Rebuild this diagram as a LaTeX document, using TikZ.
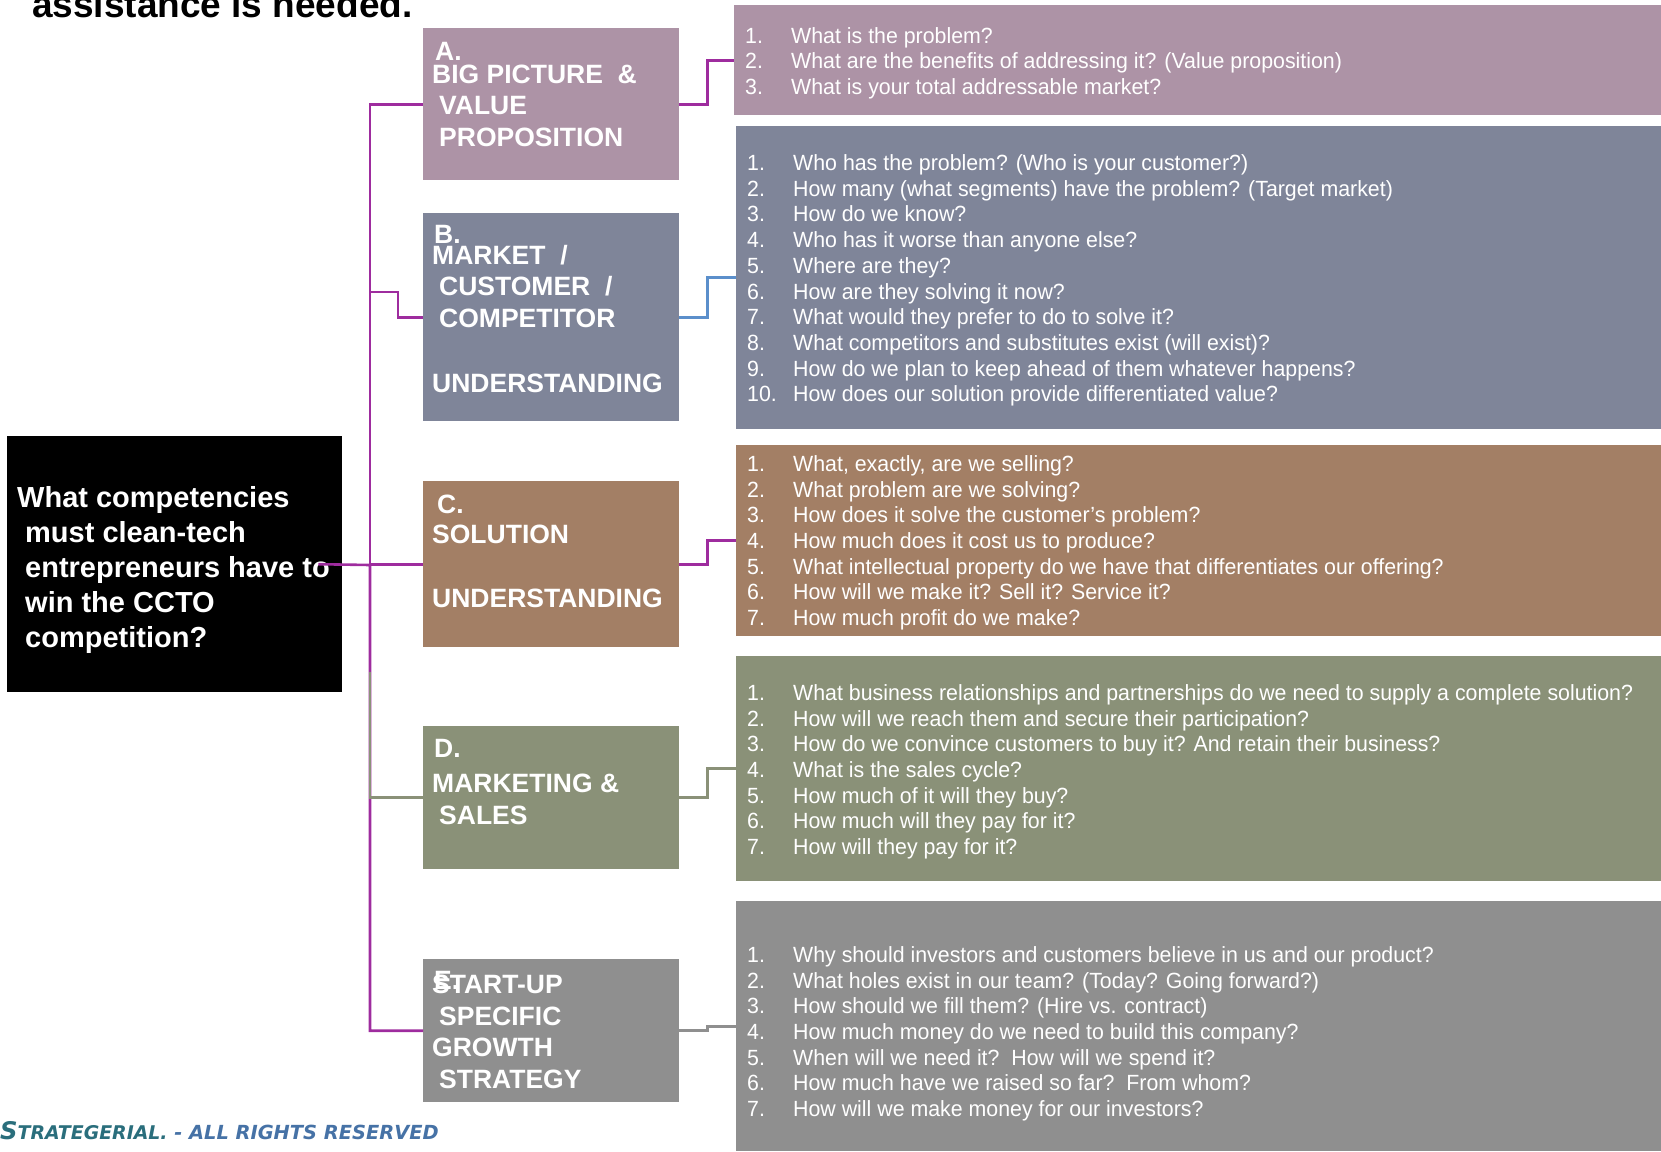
\documentclass[tikz,border=0pt]{standalone}
\usepackage{fontspec}
\setmainfont{Liberation Sans}
\newfontfamily\qfont{Liberation Sans}[FakeStretch=0.97]
\newfontfamily\footfont{DejaVu Sans}
\usetikzlibrary{calc}
\definecolor{boxA}{HTML}{AD93A6}
\definecolor{boxB}{HTML}{7F8599}
\definecolor{boxC}{HTML}{A37F65}
\definecolor{boxD}{HTML}{8A9178}
\definecolor{boxE}{HTML}{8F8F8F}
\definecolor{linkP}{HTML}{9E2C9E}
\definecolor{linkB}{HTML}{5B8FCB}
\definecolor{footTeal}{HTML}{2A6E7C}
\definecolor{footBlue}{HTML}{4672A6}
\newcommand\qi[2]{\makebox[46pt][l]{#1.}#2}

\begin{document}
\begin{tikzpicture}[x=1pt,y=-1pt]
        \tikzset{block/.style = {shape=rectangle, inner sep=0pt, anchor=north west}}
        \tikzset{boxtext/.style = {anchor=base west, inner sep=0pt, text=white, align=left,
                 font=\bfseries\fontsize{26.5}{31.5}\selectfont}}
        \tikzset{qtext/.style = {anchor=base west, inner sep=0pt, text=white, align=left,
                 font=\qfont\fontsize{22}{25.7}\selectfont}}
        \tikzset{link/.style = {line width=2.6pt}}
        \useasboundingbox (0,0) rectangle (1661,1151);

        % heading and footer (multi-line nodes sit on the baseline of their last line)
        \node[anchor=base west, inner sep=0pt, font=\bfseries\fontsize{37}{40}\selectfont] (title) at (32,17) {assistance is needed.};
        \node[anchor=base west, inner sep=0pt, font=\footfont\bfseries\itshape] (foot) at (0,1139)
             {\textcolor{footTeal}{\fontsize{24.3}{27}\selectfont S\fontsize{18.9}{21}\selectfont TRATEGERIAL.}\textcolor{footBlue}{\fontsize{19.4}{21}\selectfont{} - ALL RIGHTS RESERVED}};

        % root question
        \node[block, fill=black, minimum width=335pt, minimum height=256pt] (root) at (7,436) {};
        \node[anchor=base west, inner sep=0pt, text=white, align=left, font=\bfseries\fontsize{29}{35}\selectfont] (troot) at (17,647)
             {What competencies\\\hspace*{8pt}must clean-tech\\\hspace*{8pt}entrepreneurs have to\\\hspace*{8pt}win the CCTO\\\hspace*{8pt}competition?};

        % competency boxes
        \node[block, fill=boxA, minimum width=256pt, minimum height=152pt] (A) at (423,28) {};
        \node[block, fill=boxB, minimum width=256pt, minimum height=208pt] (B) at (423,213) {};
        \node[block, fill=boxC, minimum width=256pt, minimum height=166pt] (C) at (423,481) {};
        \node[block, fill=boxD, minimum width=256pt, minimum height=143pt] (D) at (423,726) {};
        \node[block, fill=boxE, minimum width=256pt, minimum height=143pt] (E) at (423,959) {};

        \node[boxtext] (tA0) at (435,60) {A.};
        \node[boxtext] (tA) at (432,146) {BIG PICTURE\ \ \&\\\hspace*{7pt}VALUE\\\hspace*{7pt}PROPOSITION};
        \node[boxtext] (tB0) at (434,243) {B.};
        \node[boxtext] (tB) at (432,392) {MARKET\ \ /\\\hspace*{7pt}CUSTOMER\ \ /\\\hspace*{7pt}COMPETITOR\\[33.5pt]UNDERSTANDING};
        \node[boxtext] (tC0) at (437,513) {C.};
        \node[boxtext] (tC) at (432,607) {SOLUTION\\[32.5pt]UNDERSTANDING};
        \node[boxtext] (tD0) at (434,757) {D.};
        \node[boxtext] (tD) at (432,824) {MARKETING \&\\\hspace*{7pt}SALES};
        \node[boxtext] (tE0) at (434,989) {E.};
        \node[boxtext] (tE) at (432,1088) {START-UP\\\hspace*{7pt}SPECIFIC\\GROWTH\\\hspace*{7pt}STRATEGY};

        % question panels
        \node[block, fill=boxA, minimum width=927pt, minimum height=110pt] (pA) at (734,5) {};
        \node[block, fill=boxB, minimum width=925pt, minimum height=303pt] (pB) at (736,126) {};
        \node[block, fill=boxC, minimum width=925pt, minimum height=191pt] (pC) at (736,445) {};
        \node[block, fill=boxD, minimum width=925pt, minimum height=225pt] (pD) at (736,656) {};
        \node[block, fill=boxE, minimum width=925pt, minimum height=250pt] (pE) at (736,901) {};

        \node[qtext] (qA) at (745,94.4) {\qi{1}{What is the problem?}\\
             \qi{2}{What are the benefits of addressing it? (Value proposition)}\\
             \qi{3}{What is your total addressable market?}};
        \node[qtext] (qB) at (747,401.8) {\qi{1}{Who has the problem? (Who is your customer?)}\\
             \qi{2}{How many (what segments) have the problem? (Target market)}\\
             \qi{3}{How do we know?}\\
             \qi{4}{Who has it worse than anyone else?}\\
             \qi{5}{Where are they?}\\
             \qi{6}{How are they solving it now?}\\
             \qi{7}{What would they prefer to do to solve it?}\\
             \qi{8}{What competitors and substitutes exist (will exist)?}\\
             \qi{9}{How do we plan to keep ahead of them whatever happens?}\\
             \qi{10}{How does our solution provide differentiated value?}};
        \node[qtext] (qC) at (747,625.5) {\qi{1}{What, exactly, are we selling?}\\
             \qi{2}{What problem are we solving?}\\
             \qi{3}{How does it solve the customer’s problem?}\\
             \qi{4}{How much does it cost us to produce?}\\
             \qi{5}{What intellectual property do we have that differentiates our offering?}\\
             \qi{6}{How will we make it? Sell it? Service it?}\\
             \qi{7}{How much profit do we make?}};
        \node[qtext] (qD) at (747,854.5) {\qi{1}{What business relationships and partnerships do we need to supply a complete solution?}\\
             \qi{2}{How will we reach them and secure their participation?}\\
             \qi{3}{How do we convince customers to buy it? And retain their business?}\\
             \qi{4}{What is the sales cycle?}\\
             \qi{5}{How much of it will they buy?}\\
             \qi{6}{How much will they pay for it?}\\
             \qi{7}{How will they pay for it?}};
        \node[qtext] (qE) at (747,1116.5) {\qi{1}{Why should investors and customers believe in us and our product?}\\
             \qi{2}{What holes exist in our team? (Today? Going forward?)}\\
             \qi{3}{How should we fill them? (Hire vs. contract)}\\
             \qi{4}{How much money do we need to build this company?}\\
             \qi{5}{When will we need it?\ \ How will we spend it?}\\
             \qi{6}{How much have we raised so far?\ \ From whom?}\\
             \qi{7}{How will we make money for our investors?}};

        % connectors
        \coordinate (hub) at (370,565);
        \coordinate (kB) at (398,292);
        \coordinate (jD) at (370,672);
        \draw[link, draw=linkP] ([xshift=-24pt]root.east) -- (hub) |- (E.west);
        \draw[link, draw=boxD] (jD) |- (D.west);
        \draw[link, draw=linkP] (hub) |- (A.west);
        \draw[link, draw=linkP] (hub) |- (kB) |- (B.west);
        \draw[link, draw=linkP] (hub) |- (C.west);

        \draw[link, draw=linkP] (A.east) -- ++(28,0) |- (pA.west);
        \draw[link, draw=linkB] (B.east) -- ++(28,0) |- (pB.west);
        \draw[link, draw=linkP] (C.east) -- ++(28,0) |- (pC.west);
        \draw[link, draw=boxD] (D.east) -- ++(28,0) |- (pD.west);
        \draw[link, draw=boxE] (E.east) -- ++(28,0) |- (pE.west);
\end{tikzpicture}
\end{document}
